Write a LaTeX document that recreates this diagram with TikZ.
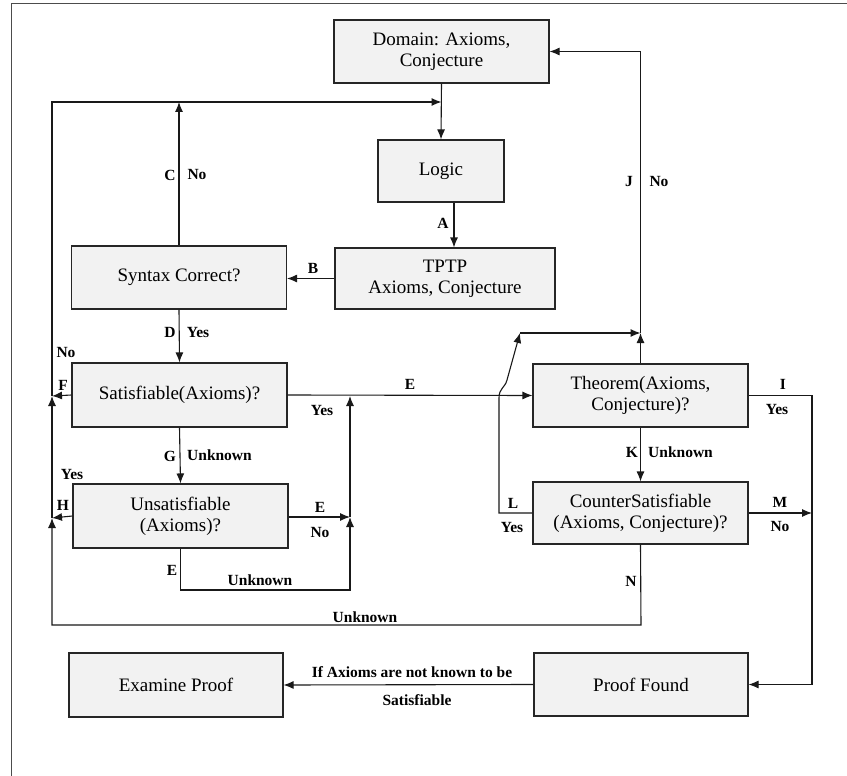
\documentclass[tikz,border=0pt]{standalone}
\usepackage{fontspec}
\setmainfont{Liberation Serif}
\usetikzlibrary{arrows.meta}

\tikzset{
  procbox/.style={rectangle, draw=black!85, line width=1.1pt, fill=black!5, align=center, inner sep=2pt, minimum width=215pt, minimum height=63pt, font=\fontsize{19}{21}\selectfont},
  flowarrow/.style={draw=black!90, line width=1.1pt, -{Latex[length=10pt,width=8pt]}},
  lbl/.style={inner sep=0pt, font=\fontsize{15.5}{18}\selectfont\bfseries}
}

\begin{document}
\begin{tikzpicture}[x=1pt, y=-1pt]

\useasboundingbox (0,0) rectangle (847,776);
\draw[black!70, line width=1pt] (11,776) -- (11,4) -- (847,4);

% boxes
\node (domainRect) [procbox] at (441.5,51.5) {Domain: Axioms,\\Conjecture};
\node (logicRect) [procbox, minimum width=126pt, minimum height=62pt] at (441,171) {Logic};
\node (tptpRect) [procbox, minimum width=220pt, minimum height=61pt] at (445,278.5) {TPTP\\Axioms, Conjecture};
\node (syntaxRect) [procbox] at (179,277.5) {Syntax Correct?};
\node (satRect) [procbox, minimum height=64pt] at (179.5,395) {Satisfiable(Axioms)?};
\node (unsatRect) [procbox, minimum height=64pt] at (180.5,516) {Unsatisfiable\\(Axioms)?};
\node (theoremRect) [procbox] at (640.5,395.5) {Theorem(Axioms,\\Conjecture)?};
\node (counterRect) [procbox, minimum height=62pt] at (640.5,513) {CounterSatisfiable\\(Axioms, Conjecture)?};
\node (examineRect) [procbox, minimum width=214pt, minimum height=64pt] at (176,685) {Examine Proof};
\node (proofRect) [procbox, minimum width=214pt] at (641,684.5) {Proof Found};

% junctions
\coordinate (topJoin) at (441.5,102);
\coordinate (topLeft) at (52,102);
\coordinate (leftF) at (52,396);
\coordinate (leftH) at (52,518);
\coordinate (botLeft) at (52,625);
\coordinate (botRight) at (641,625);
\coordinate (eTop) at (350,396);
\coordinate (eMid) at (350,517);
\coordinate (eBot) at (350,590);
\coordinate (unsatBot) at (180.5,590);
\coordinate (jJoin) at (640.5,333);
\coordinate (lTop) at (520,333);
\coordinate (lLeft) at (499,513);
\coordinate (lBendA) at (499,398);
\coordinate (lBendB) at (507,380);
\coordinate (rightI) at (812,395.5);
\coordinate (rightM) at (812,513);
\coordinate (rightP) at (812,684.5);

% connectors
\draw[flowarrow] (domainRect.south) -- (logicRect.north);
\draw[flowarrow] ([xshift=13pt]logicRect.south) -- ([xshift=13pt]logicRect.south |- tptpRect.north);
\draw[flowarrow] (tptpRect.west) -- (tptpRect.west -| syntaxRect.east);
\draw[flowarrow] (syntaxRect.north) -- (syntaxRect.north |- topJoin);
\draw[flowarrow] (leftF) -- (topLeft) -- (topJoin);
\draw[flowarrow] (syntaxRect.south) -- (satRect.north);
\draw[flowarrow] (satRect.west) -- (leftF);
\draw[flowarrow] (satRect.south) -- (unsatRect.north);
\draw[flowarrow] (unsatRect.west) -- (leftH);
\draw[flowarrow] (leftH) -- (leftF);
\draw[flowarrow] (counterRect.south) -- (botRight) -- (botLeft) -- (leftH);
\draw[flowarrow] (satRect.east) -- (theoremRect.west);
\draw[flowarrow] (unsatRect.east |- eMid) -- (eMid);
\draw[flowarrow] (unsatRect.south) -- (unsatBot) -- (eBot) -- (eMid);
\draw[flowarrow] (eMid) -- (eTop);
\draw[flowarrow] (theoremRect.north) -- (jJoin);
\draw[flowarrow] (jJoin) -- (jJoin |- domainRect.east) -- (domainRect.east);
\draw[flowarrow] (counterRect.west) -- (lLeft) -- (lBendA) .. controls (499,388) and (505,388) .. (lBendB) -- (lTop);
\draw[flowarrow] (lTop) -- (jJoin);
\draw[flowarrow] (theoremRect.south) -- (counterRect.north);
\draw[flowarrow] (theoremRect.east) -- (rightI) -- (rightP) -- (proofRect.east);
\draw[flowarrow] (counterRect.east) -- (rightM);
\draw[flowarrow] (proofRect.west) -- (examineRect.east);

% labels
\node (lblA) [lbl] at (443,223) {A};
\node (lblB) [lbl] at (313,268) {B};
\node (lblC) [lbl] at (170,175) {C};
\node (lblCNo) [lbl] at (197,175) {No};
\node (lblD) [lbl] at (170,332) {D};
\node (lblDYes) [lbl] at (198,332) {Yes};
\node (lblJ) [lbl] at (629,182) {J};
\node (lblJNo) [lbl] at (659,182) {No};
\node (lblFNo) [lbl] at (66,352) {No};
\node (lblF) [lbl] at (63,385) {F};
\node (lblHYes) [lbl] at (72,474) {Yes};
\node (lblH) [lbl] at (63,505) {H};
\node (lblG) [lbl] at (170,456) {G};
\node (lblGUnknown) [lbl, anchor=west] at (187,455) {Unknown};
\node (lblE) [lbl] at (410,384) {E};
\node (lblEYes) [lbl] at (322,410) {Yes};
\node (lblEUnsat) [lbl] at (320,507) {E};
\node (lblENo) [lbl] at (320,532) {No};
\node (lblEBot) [lbl] at (172,570) {E};
\node (lblEUnknown) [lbl] at (260,580) {Unknown};
\node (lblNUnknown) [lbl] at (365,617) {Unknown};
\node (lblN) [lbl] at (631,581) {N};
\node (lblI) [lbl] at (783,384) {I};
\node (lblIYes) [lbl] at (777,409) {Yes};
\node (lblK) [lbl] at (632,452) {K};
\node (lblKUnknown) [lbl, anchor=west] at (648,452) {Unknown};
\node (lblL) [lbl] at (513,503) {L};
\node (lblLYes) [lbl] at (512,527) {Yes};
\node (lblM) [lbl] at (780,502) {M};
\node (lblMNo) [lbl] at (780,526) {No};
\node (lblIf) [lbl] at (412,672) {If Axioms are not known to be};
\node (lblSatisfiable) [lbl] at (417,700) {Satisfiable};

\end{tikzpicture}
\end{document}
